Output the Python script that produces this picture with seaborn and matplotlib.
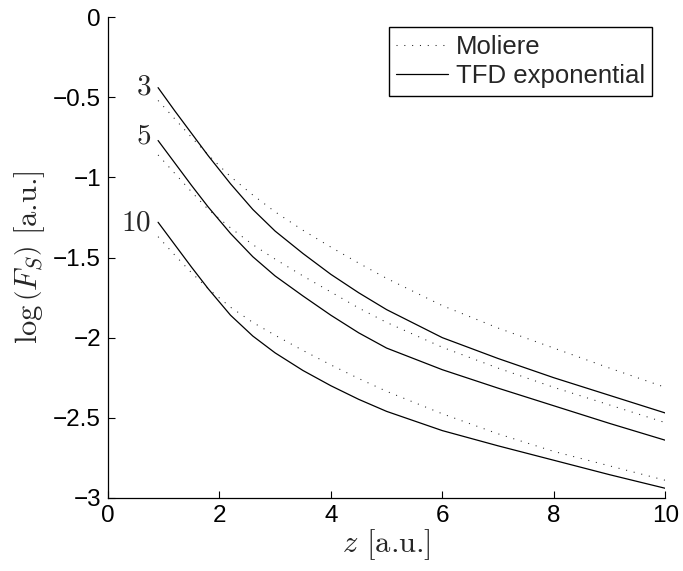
import matplotlib
matplotlib.use("Agg")
import matplotlib.pyplot as plt
import seaborn as sns
import pandas as pd

# ---- data ----
z = [0.9, 1.2, 1.5, 1.8, 2.2, 2.6, 3.0, 3.5, 4.0, 4.5, 5.0, 6.0, 7.0, 8.0, 9.0, 10.0]

tfd_3 = [-0.44, -0.585, -0.725, -0.865, -1.04, -1.20, -1.335, -1.475, -1.605, -1.72, -1.825,
         -2.00, -2.13, -2.25, -2.36, -2.47]
mol_3 = [-0.52, -0.635, -0.75, -0.86, -0.995, -1.11, -1.215, -1.33, -1.435, -1.535, -1.63,
         -1.80, -1.94, -2.065, -2.19, -2.31]
tfd_5 = [-0.77, -0.91, -1.05, -1.185, -1.35, -1.495, -1.615, -1.74, -1.86, -1.97, -2.065,
         -2.20, -2.315, -2.425, -2.535, -2.64]
mol_5 = [-0.86, -0.975, -1.09, -1.20, -1.315, -1.42, -1.51, -1.615, -1.715, -1.815, -1.905,
         -2.06, -2.19, -2.31, -2.42, -2.53]
tfd_10 = [-1.28, -1.42, -1.56, -1.695, -1.86, -1.99, -2.095, -2.205, -2.30, -2.385, -2.46,
          -2.58, -2.675, -2.765, -2.855, -2.94]
mol_10 = [-1.37, -1.485, -1.595, -1.695, -1.81, -1.905, -1.985, -2.08, -2.17, -2.255, -2.335,
          -2.475, -2.60, -2.71, -2.80, -2.89]

curve_labels = ["3", "5", "10"]
label_pos = [(0.78, -0.43), (0.78, -0.74), (0.78, -1.28)]

x_ticks = [0, 2, 4, 6, 8, 10]
y_ticks = [0, -0.5, -1, -1.5, -2, -2.5, -3]
y_ticklabels = ["0", "\u22120.5", "\u22121", "\u22121.5", "\u22122", "\u22122.5", "\u22123"]

legend_names = ["Moliere", "TFD exponential"]

# ---- long-form table ----
rows = []
for zz, tf, mo in zip(curve_labels, [tfd_3, tfd_5, tfd_10], [mol_3, mol_5, mol_10]):
    for xi, yt, ym in zip(z, tf, mo):
        rows.append({"z": xi, "F": yt, "Z": zz, "model": "TFD exponential"})
        rows.append({"z": xi, "F": ym, "Z": zz, "model": "Moliere"})
df = pd.DataFrame(rows)

sns.set_style("ticks")
plt.rcParams["font.family"] = ["Liberation Sans", "DejaVu Sans"]
plt.rcParams["mathtext.fontset"] = "cm"
plt.rcParams["axes.unicode_minus"] = True

fig = plt.figure(figsize=(6.83, 5.71), dpi=100)
ax = fig.add_axes([0.158, 0.128, 0.816, 0.842])

dot_style = (0, (1, 6.5))
handles = {}
for zz in curve_labels:
    sub_m = df[(df.Z == zz) & (df.model == "Moliere")]
    sub_t = df[(df.Z == zz) & (df.model == "TFD exponential")]
    sns.lineplot(data=sub_m, x="z", y="F", ax=ax, color="#222222", lw=0.75,
                 linestyle=dot_style, legend=False, estimator=None, sort=False)
    handles.setdefault("Moliere", ax.lines[-1])
    sns.lineplot(data=sub_t, x="z", y="F", ax=ax, color="black", lw=0.9,
                 legend=False, estimator=None, sort=False)
    handles.setdefault("TFD exponential", ax.lines[-1])

for lab, (lx, ly) in zip(curve_labels, label_pos):
    ax.text(lx, ly, "$" + lab + "$", ha="right", va="center", fontsize=21)

ax.set_xlim(0, 10)
ax.set_ylim(-3, 0)
ax.set_xticks(x_ticks)
ax.set_xticklabels([str(t) for t in x_ticks])
ax.set_yticks(y_ticks)
ax.set_yticklabels(y_ticklabels)
ax.tick_params(direction="in", length=5, width=0.8, labelsize=17.5, pad=5, colors="black")

for s in ["top", "right"]:
    ax.spines[s].set_visible(False)
for s in ["left", "bottom"]:
    ax.spines[s].set_linewidth(0.9)
    ax.spines[s].set_color("black")

ax.set_xlabel(r"$z$ [a.u.]", fontsize=22, labelpad=0, fontfamily="cmr10")
ax.set_ylabel(r"$\log\left(F_S\right)$ [a.u.]", fontsize=22, labelpad=4, fontfamily="cmr10")

leg = ax.legend([handles[n] for n in legend_names], legend_names,
                loc="upper right", bbox_to_anchor=(0.977, 0.979), borderaxespad=0,
                fontsize=18.5, frameon=True, fancybox=False, framealpha=1,
                edgecolor="black", handlelength=2.0, handletextpad=0.3,
                borderpad=0.3, labelspacing=0.2)
leg.get_frame().set_linewidth(1.0)

fig.savefig("out.png", dpi=100, facecolor="white")
